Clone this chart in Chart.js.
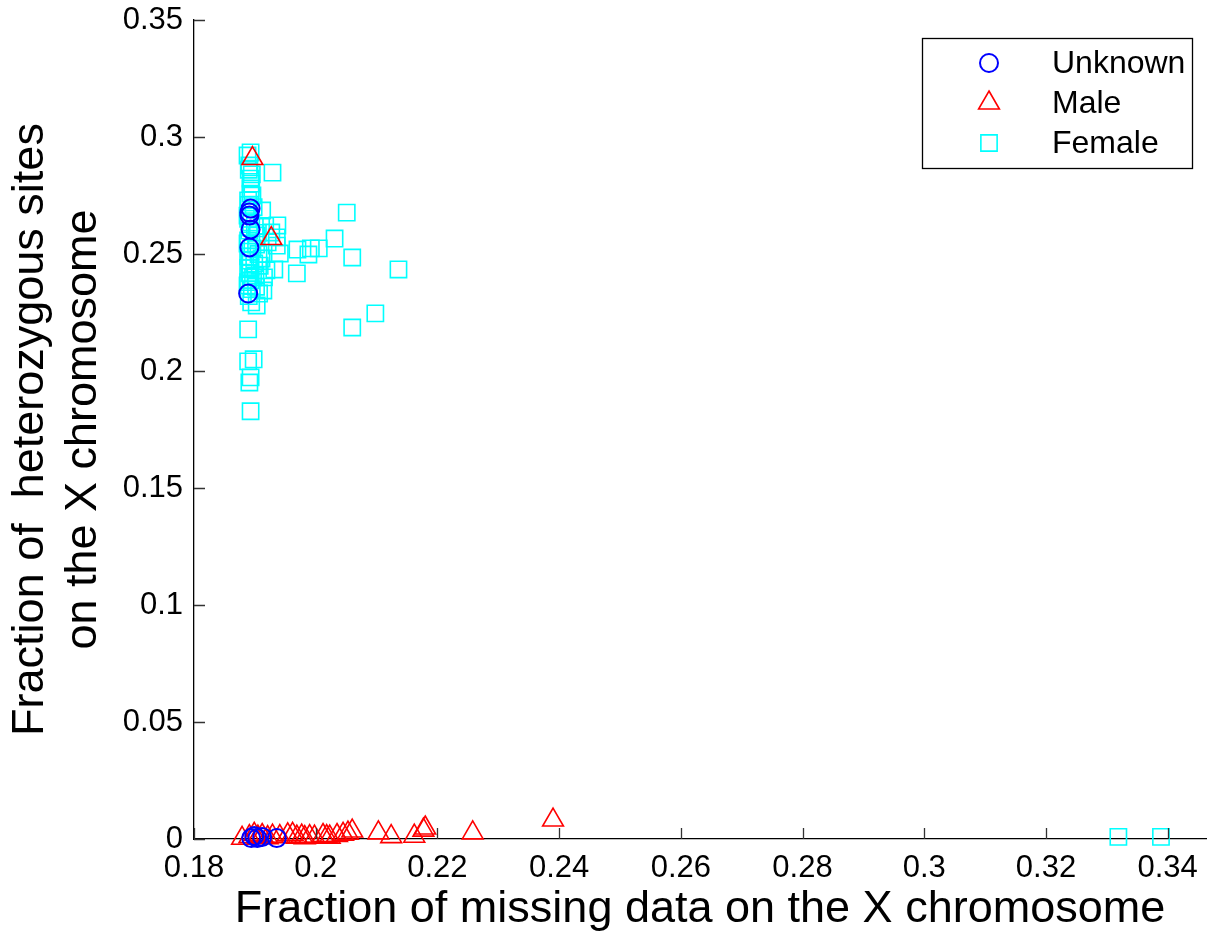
<!DOCTYPE html>
<html>
<head>
<meta charset="utf-8">
<script src="https://cdn.jsdelivr.net/npm/chart.js@4.4.0/dist/chart.umd.min.js"></script>
<style>
  html, body { margin: 0; padding: 0; background: #fff; overflow: hidden; }
  #c { display: block; }
</style>
</head>
<body>
<canvas id="c" width="1210" height="937"></canvas>
<script type="text/javascript">
    // values, [x, y]
    var unknownPts = [
        [0.1893, 0.2694], [0.1891, 0.2677], [0.1891, 0.2664], [0.1893, 0.2605],
        [0.1891, 0.2528], [0.1889, 0.2331],
        [0.1894, 0.0004], [0.1899, 0.0013], [0.1904, 0.0004], [0.1912, 0.0009],
        [0.1936, 0.0004]
    ];
    var malePts = [
        [0.1896, 0.2908], [0.1927, 0.2566],
        [0.1879, 0.0003], [0.1891, 0.0010], [0.1899, 0.0020], [0.1905, 0.0008],
        [0.1912, 0.0015], [0.1921, 0.0006], [0.1929, 0.0012], [0.1941, 0.0010],
        [0.1954, 0.0018], [0.1962, 0.0020], [0.1969, 0.0008], [0.1977, 0.0012],
        [0.1982, 0.0006], [0.1990, 0.0010], [0.1998, 0.0008], [0.2012, 0.0015],
        [0.2018, 0.0010], [0.2023, 0.0008], [0.2035, 0.0015], [0.2045, 0.0020],
        [0.2053, 0.0025], [0.2060, 0.0034],
        [0.2103, 0.0026], [0.2124, 0.0010], [0.2162, 0.0012], [0.2177, 0.0038],
        [0.2180, 0.0047], [0.2258, 0.0026], [0.2390, 0.0081]
    ];
    var femalePts = [
        [0.1893, 0.2934], [0.1888, 0.2921], [0.1929, 0.2848], [0.1891, 0.2878],
        [0.1893, 0.2822], [0.1894, 0.2801], [0.1893, 0.2780], [0.1893, 0.2758],
        [0.1896, 0.2750], [0.1889, 0.2729], [0.1912, 0.2686], [0.2051, 0.2677],
        [0.1888, 0.2664], [0.1894, 0.2635], [0.1937, 0.2622], [0.1927, 0.2592],
        [0.1903, 0.2579], [0.1936, 0.2571], [0.2031, 0.2566], [0.1889, 0.2558],
        [0.1936, 0.2536], [0.1896, 0.2524], [0.1970, 0.2519], [0.1992, 0.2524],
        [0.2005, 0.2524], [0.1988, 0.2498], [0.1941, 0.2502], [0.2060, 0.2485],
        [0.1911, 0.2481], [0.1891, 0.2472], [0.1893, 0.2442], [0.1919, 0.2430],
        [0.1932, 0.2434], [0.2136, 0.2434], [0.1969, 0.2417], [0.1891, 0.2417],
        [0.1901, 0.2408], [0.1893, 0.2387], [0.1888, 0.2366], [0.1914, 0.2344],
        [0.1907, 0.2331], [0.1894, 0.2293], [0.1903, 0.2280], [0.2098, 0.2246],
        [0.2060, 0.2186], [0.1889, 0.2178], [0.1898, 0.2050], [0.1889, 0.2041],
        [0.1893, 0.1973], [0.1891, 0.1951], [0.1893, 0.1828],
        [0.1890, 0.2860], [0.1895, 0.2840], [0.1890, 0.2710], [0.1898, 0.2700],
        [0.1889, 0.2650], [0.1900, 0.2620], [0.1891, 0.2600], [0.1905, 0.2590],
        [0.1888, 0.2545], [0.1902, 0.2540], [0.1893, 0.2510], [0.1906, 0.2500],
        [0.1889, 0.2490], [0.1899, 0.2460], [0.1908, 0.2450], [0.1889, 0.2440],
        [0.1897, 0.2400], [0.1889, 0.2380], [0.1902, 0.2360], [0.1895, 0.2350],
        [0.1917, 0.2620], [0.1921, 0.2550], [0.1915, 0.2400], [0.1890, 0.2320],
        [0.3319, 0.0009], [0.3389, 0.0009]
    ];

    var xTicks = [0.18, 0.2, 0.22, 0.24, 0.26, 0.28, 0.3, 0.32, 0.34];
    var xTickLabels = ['0.18', '0.2', '0.22', '0.24', '0.26', '0.28', '0.3', '0.32', '0.34'];
    var yTicks = [0, 0.05, 0.1, 0.15, 0.2, 0.25, 0.3, 0.35];
    var yTickLabels = ['0', '0.05', '0.1', '0.15', '0.2', '0.25', '0.3', '0.35'];

    var FONT = "'Liberation Sans', Arial, sans-serif";

    var toXY = function(list){
        return list.map(function(p){ return {x: p[0], y: p[1]}; });
    };

    // MATLAB style: ticks pointing into the plot
    var inwardTicks = {
        id: 'inwardTicks',
        afterDraw: function(chart){
            var ctx = chart.ctx, a = chart.chartArea;
            var xs = chart.scales.x, ys = chart.scales.y;
            ctx.save();
            ctx.strokeStyle = '#333';
            ctx.lineWidth = 1.3;
            ctx.beginPath();
            xs.ticks.forEach(function(t){
                var px = Math.round(xs.getPixelForValue(t.value)) + 0.5;
                ctx.moveTo(px, a.bottom);
                ctx.lineTo(px, a.bottom - 11);
            });
            ys.ticks.forEach(function(t){
                var py = Math.round(ys.getPixelForValue(t.value)) + 0.5;
                ctx.moveTo(a.left, py);
                ctx.lineTo(a.left + 11, py);
            });
            ctx.stroke();
            ctx.restore();
        }
    };

    // boxed legend in the upper right corner
    var boxLegend = {
        id: 'boxLegend',
        afterDraw: function(chart){
            var ctx = chart.ctx;
            var bx = 922, by = 38, bw = 270, bh = 130;
            ctx.save();
            ctx.fillStyle = '#fff';
            ctx.fillRect(bx, by, bw, bh);
            ctx.strokeStyle = '#000';
            ctx.lineWidth = 1.3;
            ctx.strokeRect(bx + 0.5, by + 0.5, bw, bh);
            chart.data.datasets.forEach(function(ds, i){
                var cy = by + 25 + i * 40;
                ctx.strokeStyle = ds.pointBorderColor;
                ctx.fillStyle = 'rgba(0,0,0,0)';
                ctx.lineWidth = ds.pointBorderWidth;
                Chart.helpers.drawPoint(ctx, {
                    pointStyle: ds.pointStyle,
                    radius: ds.pointRadius,
                    borderWidth: ds.pointBorderWidth,
                    rotation: 0
                }, 989, cy);
                ctx.fillStyle = '#000';
                ctx.font = '32px ' + FONT;
                ctx.textAlign = 'left';
                ctx.textBaseline = 'middle';
                ctx.fillText(ds.label, 1052, cy + 1);
            });
            ctx.restore();
        }
    };

    var ctx = document.getElementById('c').getContext('2d');
    new Chart(ctx, {
        type: 'scatter',
        data: {
            datasets: [
                {label: 'Unknown', data: toXY(unknownPts), pointStyle: 'circle', pointRadius: 9,
                    pointBorderColor: '#0000ff', pointBackgroundColor: 'rgba(0,0,0,0)', pointBorderWidth: 2, clip: false},
                {label: 'Male', data: toXY(malePts), pointStyle: 'triangle', pointRadius: 12,
                    pointBorderColor: '#ff0000', pointBackgroundColor: 'rgba(0,0,0,0)', pointBorderWidth: 1.6, clip: false},
                {label: 'Female', data: toXY(femalePts), pointStyle: 'rect', pointRadius: 11.5,
                    pointBorderColor: '#00ffff', pointBackgroundColor: 'rgba(0,0,0,0)', pointBorderWidth: 1.6, clip: false}
            ]
        },
        options: {
            responsive: false,
            animation: false,
            devicePixelRatio: 1,
            layout: {autoPadding: false, padding: {top: 20, right: 4, left: 0, bottom: 0}},
            plugins: {
                legend: {display: false},
                tooltip: {enabled: false}
            },
            scales: {
                x: {
                    type: 'linear',
                    min: 0.18,
                    max: 0.3463,
                    afterBuildTicks: function(s){ s.ticks = xTicks.map(function(v){ return {value: v}; }); },
                    afterFit: function(s){ s.height = 98; s.paddingLeft = 0; s.paddingRight = 0; },
                    grid: {display: false, drawTicks: false},
                    border: {display: true, color: '#000', width: 1.3},
                    ticks: {
                        autoSkip: false, maxRotation: 0, padding: 11, color: '#000',
                        font: {family: FONT, size: 31},
                        callback: function(v, i){ return xTickLabels[i]; }
                    },
                    title: {
                        display: true,
                        text: 'Fraction of missing data on the X chromosome',
                        color: '#000',
                        font: {family: FONT, size: 45},
                        padding: {top: 0, bottom: 0}
                    }
                },
                y: {
                    type: 'linear',
                    min: 0,
                    max: 0.35,
                    afterBuildTicks: function(s){ s.ticks = yTicks.map(function(v){ return {value: v}; }); },
                    afterFit: function(s){ s.width = 194; s.paddingTop = 0; s.paddingBottom = 0; },
                    grid: {display: false, drawTicks: false},
                    border: {display: true, color: '#000', width: 1.3},
                    ticks: {
                        autoSkip: false, padding: 11, color: '#000',
                        font: {family: FONT, size: 31},
                        callback: function(v, i){ return yTickLabels[i]; }
                    },
                    title: {
                        display: true,
                        text: ['Fraction of  heterozygous sites', 'on the X chromosome'],
                        color: '#000',
                        font: {family: FONT, size: 45, lineHeight: 1.18},
                        padding: {top: 4, bottom: 0}
                    }
                }
            }
        },
        plugins: [inwardTicks, boxLegend]
    });
</script>
</body>
</html>
